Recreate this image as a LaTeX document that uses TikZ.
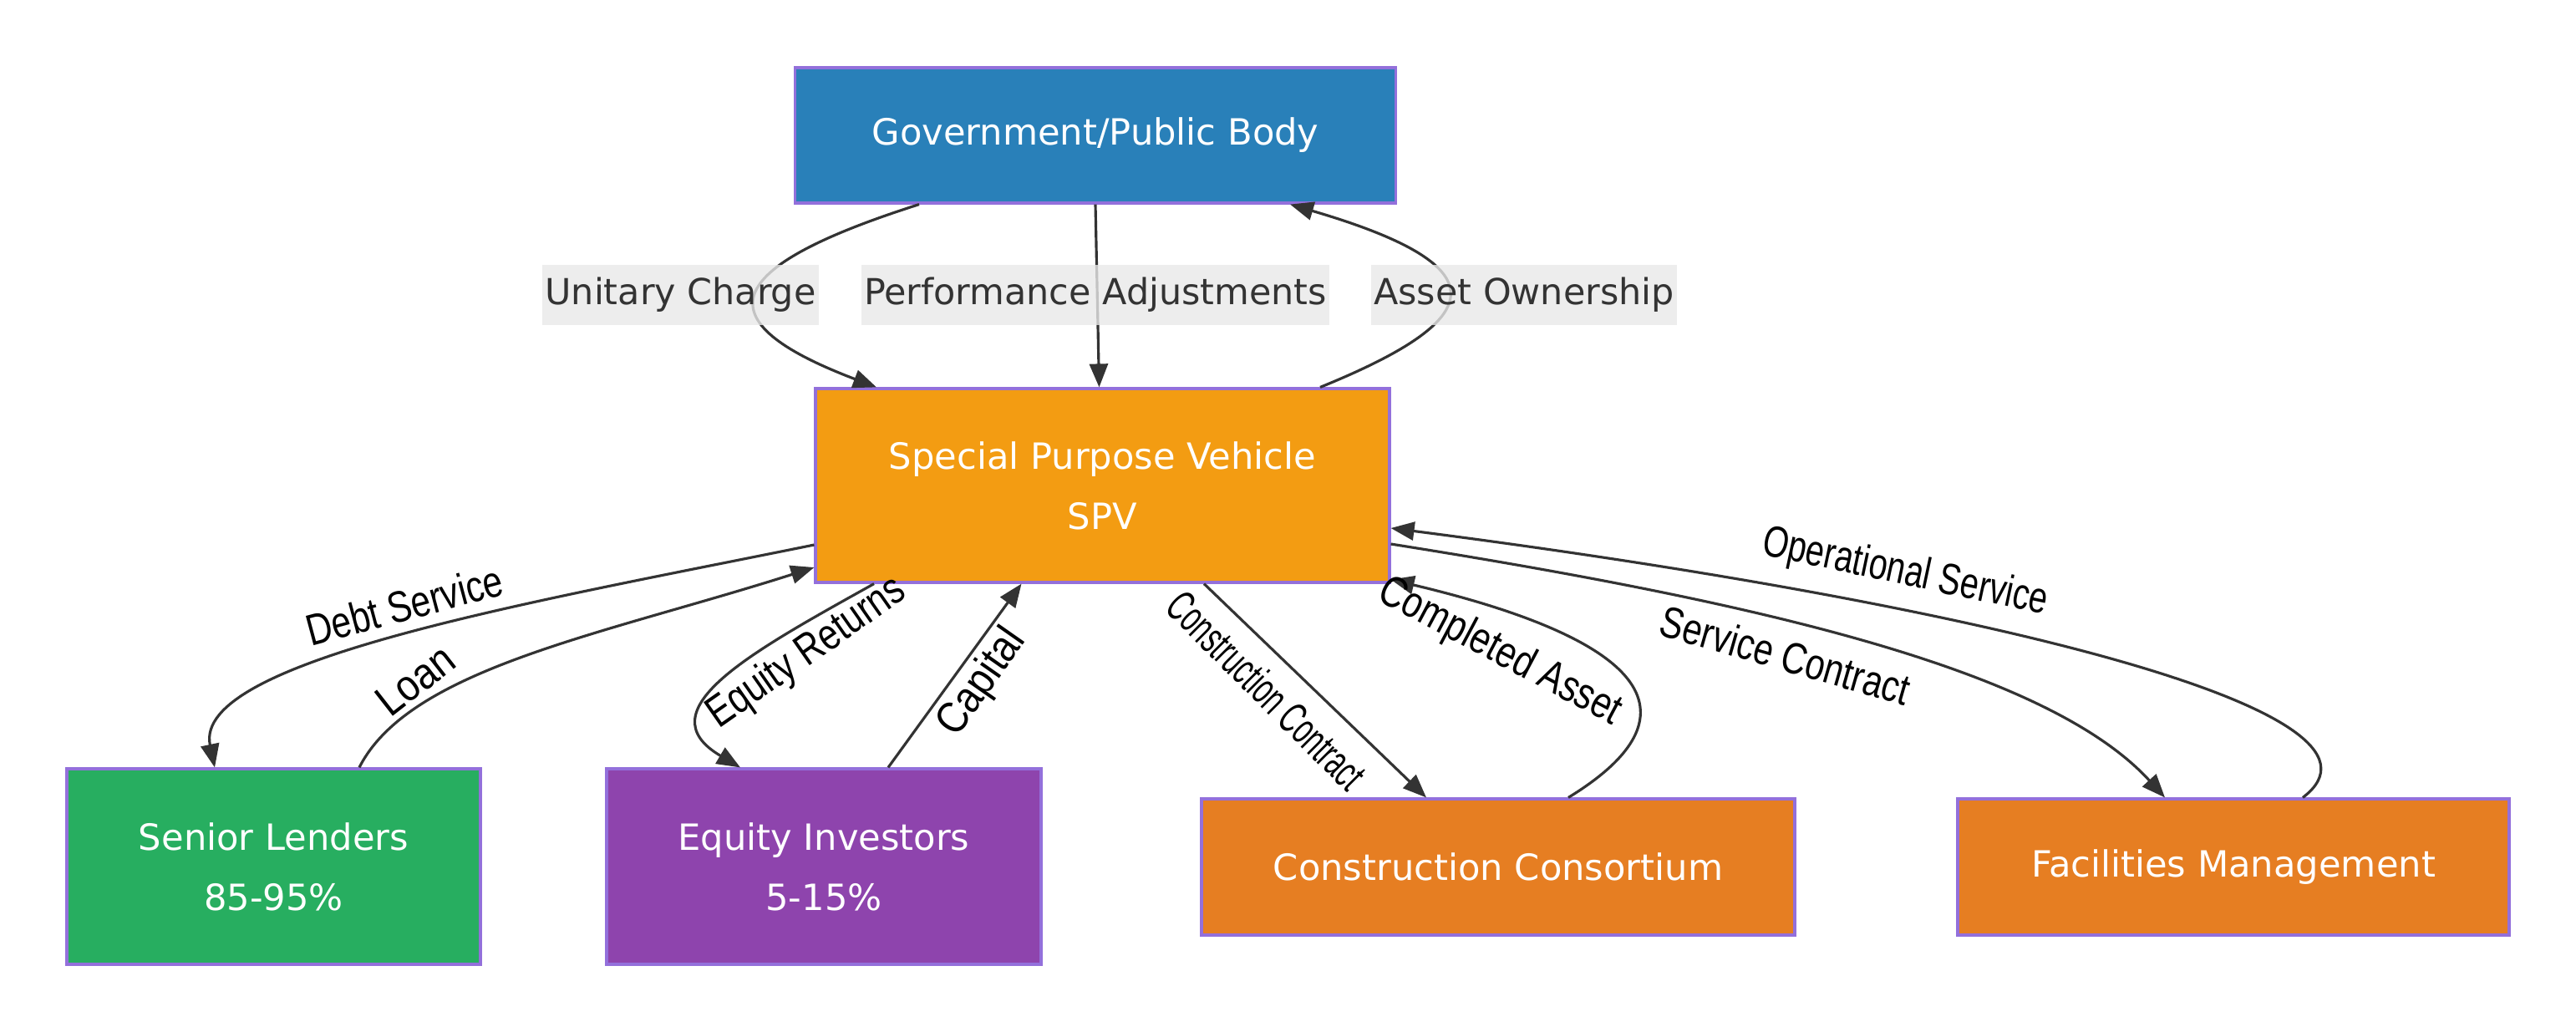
\documentclass[tikz,border=0pt]{standalone}
\usepackage{fontspec}
\usepackage{graphicx}
\setmainfont{DejaVu Sans}
\newfontfamily\lblfont{Liberation Sans}
\usetikzlibrary{arrows.meta}

\definecolor{govblue}{HTML}{2980B9}
\definecolor{spvorange}{HTML}{F39C12}
\definecolor{lendgreen}{HTML}{27AE60}
\definecolor{eqpurple}{HTML}{8E44AD}
\definecolor{ctrorange}{HTML}{E67E22}
\definecolor{boxborder}{HTML}{9370DB}
\definecolor{linegray}{HTML}{333333}
\definecolor{lblbg}{HTML}{E8E8E8}

\newcommand{\slab}[2][0.8]{\scalebox{#1}[1]{#2}}

\begin{document}
\begin{tikzpicture}[
   box/.style={rectangle,draw=boxborder,line width=0.9pt,text=white,align=center,
               inner sep=0pt,font=\fontsize{12.3}{20.5}\selectfont},
   flow/.style={draw=linegray,line width=0.9pt,-{Triangle[length=0.28cm,width=0.22cm]}},
   glab/.style={fill=lblbg,fill opacity=0.8,text opacity=1,text=linegray,inner xsep=1pt,
                minimum height=0.72cm,font=\fontsize{12.2}{14}\selectfont},
   rlab/.style={inner sep=0pt,text=black,font=\lblfont\fontsize{15}{17}\selectfont}]
   \useasboundingbox (0,0) rectangle (30.83,12.34);

   % parties
   \node[box,fill=govblue,minimum width=7.19cm,minimum height=1.62cm]    (gov)    at (13.11,10.72) {Government/Public Body};
   \node[box,fill=spvorange,minimum width=6.87cm,minimum height=2.32cm]  (spv)    at (13.195,6.53) {Special Purpose Vehicle\\SPV};
   \node[box,fill=lendgreen,minimum width=4.95cm,minimum height=2.34cm]  (senior) at (3.275,1.97)  {Senior Lenders\\85-95\%};
   \node[box,fill=eqpurple,minimum width=5.20cm,minimum height=2.34cm]   (equity) at (9.86,1.97)   {Equity Investors\\5-15\%};
   \node[box,fill=ctrorange,minimum width=7.10cm,minimum height=1.63cm]  (cons)   at (17.93,1.965) {Construction Consortium};
   \node[box,fill=ctrorange,minimum width=6.60cm,minimum height=1.63cm]  (fm)     at (26.73,1.965) {Facilities Management};

   % government <-> spv
   \draw[flow] ([xshift=-2.11cm]gov.south) .. controls (8.6,9.13) and (8.4,8.5) .. ([xshift=-2.705cm]spv.north);
   \draw[flow] (gov.south) -- ([xshift=-0.04cm]spv.north);
   \draw[flow] ([xshift=2.605cm]spv.north) .. controls (17.75,8.5) and (18.05,9.13) .. ([xshift=2.33cm]gov.south);

   % finance
   \draw[flow] ([yshift=-0.71cm]spv.west) .. controls (6.40,5.14) and (2.30,4.44) .. ([xshift=-0.705cm]senior.north);
   \draw[flow] ([xshift=1.025cm]senior.north) .. controls (4.90,4.34) and (7.20,4.74) .. ([yshift=-0.98cm]spv.west);
   \draw[flow] ([xshift=-2.735cm]spv.south) .. controls (9.00,4.54) and (7.70,3.84) .. ([xshift=-1.0cm]equity.north);
   \draw[flow] ([xshift=0.77cm]equity.north) -- ([xshift=-0.97cm]spv.south);

   % contracts
   \draw[flow] ([xshift=1.215cm]spv.south) -- ([xshift=-0.86cm]cons.north);
   \draw[flow] ([xshift=0.84cm]cons.north) .. controls (20.25,3.70) and (19.95,4.62) .. ([yshift=0.05cm]spv.south east);
   \draw[flow] ([yshift=-0.70cm]spv.east) .. controls (21.00,5.14) and (24.50,4.34) .. ([xshift=-0.82cm]fm.north);
   \draw[flow] ([xshift=0.83cm]fm.north) .. controls (28.95,3.85) and (23.50,5.14) .. ([yshift=-0.51cm]spv.east);

   % labels
   \node[glab] (lunit) at (8.145,8.81) {Unitary Charge};
   \node[glab] (lperf) at (13.11,8.81) {Performance Adjustments};
   \node[glab] (lown)  at (18.24,8.81) {Asset Ownership};

   \node[rlab,rotate=15]  (ldebt) at (4.84,5.10)  {\slab{Debt Service}};
   \node[rlab,rotate=38]  (lloan) at (4.97,4.20)  {\slab[0.88]{Loan}};
   \node[rlab,rotate=35]  (lret)  at (9.66,4.52)  {\slab{Equity Returns}};
   \node[rlab,rotate=55]  (lcap)  at (11.76,4.17) {\slab[0.88]{Capital}};
   \node[rlab,rotate=-45] (lcc)   at (15.16,4.08) {\slab[0.61]{Construction Contract}};
   \node[rlab,rotate=-28] (lca)   at (17.95,4.53) {\slab{Completed Asset}};
   \node[rlab,rotate=-16] (lsc)   at (21.37,4.50) {\slab[0.79]{Service Contract}};
   \node[rlab,rotate=-12] (lops)  at (22.80,5.48) {\slab[0.75]{Operational Service}};
\end{tikzpicture}
\end{document}
